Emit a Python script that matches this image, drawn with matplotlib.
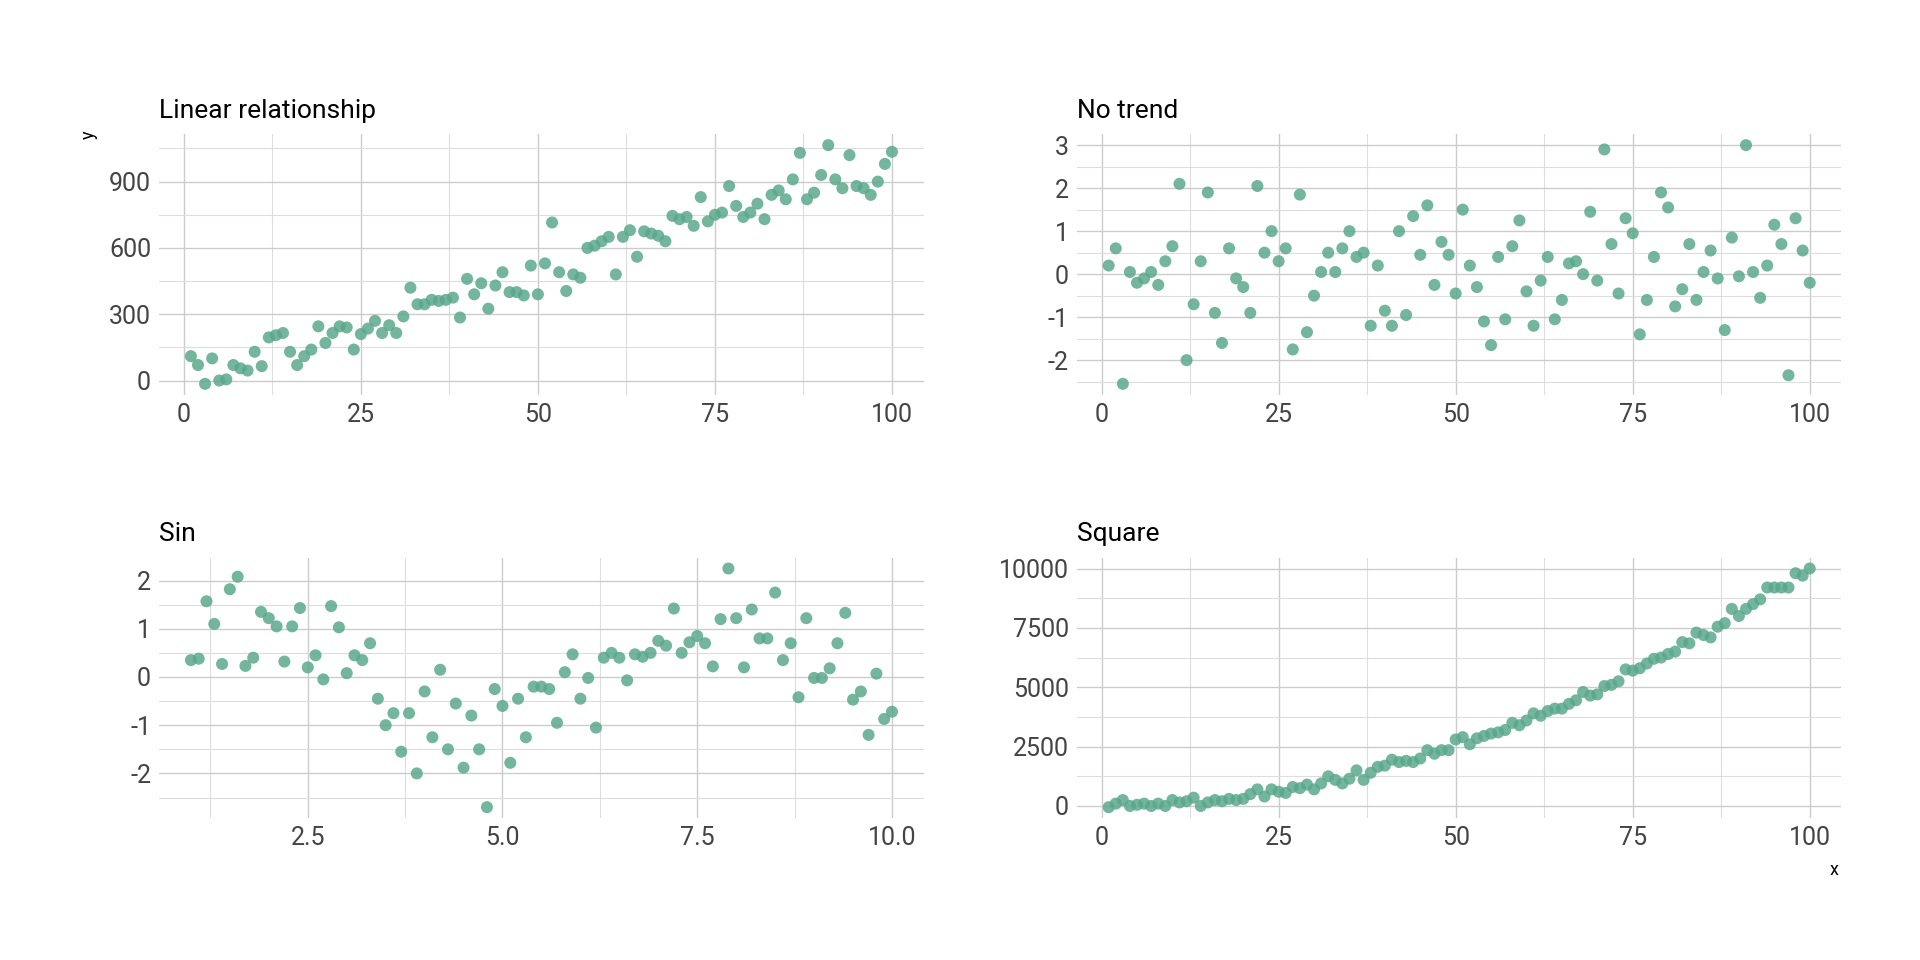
import matplotlib
matplotlib.use("Agg")
import matplotlib.pyplot as plt
from matplotlib.ticker import MultipleLocator, FormatStrFormatter

plt.rcParams['font.family'] = ['Liberation Sans Narrow', 'Roboto', 'DejaVu Sans']
plt.rcParams['axes.unicode_minus'] = False

x100 = list(range(1, 101))
lin_y = [110, 70, -15, 100, 0, 5, 70, 55, 45, 130, 65, 195, 205, 215, 130, 70, 110, 140, 245, 170,
         215, 245, 240, 140, 210, 235, 270, 215, 250, 215, 290, 420, 345, 345, 365, 360, 365, 375, 285, 460,
         390, 440, 325, 430, 490, 400, 400, 385, 520, 390, 530, 715, 490, 405, 480, 465, 600, 610, 630, 650,
         480, 650, 680, 560, 675, 665, 655, 630, 745, 730, 740, 700, 830, 720, 750, 760, 880, 790, 740, 760,
         800, 730, 840, 860, 820, 910, 1030, 820, 850, 930, 1065, 910, 870, 1020, 880, 870, 840, 900, 980, 1035]
notrend_y = [0.2, 0.6, -2.55, 0.05, -0.2, -0.1, 0.05, -0.25, 0.3, 0.65, 2.1, -2.0, -0.7, 0.3, 1.9, -0.9, -1.6, 0.6, -0.1, -0.3,
             -0.9, 2.05, 0.5, 1.0, 0.3, 0.6, -1.75, 1.85, -1.35, -0.5, 0.05, 0.5, 0.05, 0.6, 1.0, 0.4, 0.5, -1.2, 0.2, -0.85,
             -1.2, 1.0, -0.95, 1.35, 0.45, 1.6, -0.25, 0.75, 0.45, -0.45, 1.5, 0.2, -0.3, -1.1, -1.65, 0.4, -1.05, 0.65, 1.25, -0.4,
             -1.2, -0.15, 0.4, -1.05, -0.6, 0.25, 0.3, 0.0, 1.45, -0.15, 2.9, 0.7, -0.45, 1.3, 0.95, -1.4, -0.6, 0.4, 1.9, 1.55,
             -0.75, -0.35, 0.7, -0.6, 0.05, 0.55, -0.1, -1.3, 0.85, -0.05, 3.0, 0.05, -0.55, 0.2, 1.15, 0.7, -2.35, 1.3, 0.55, -0.2]
sin_x = [round(1 + 0.1 * i, 1) for i in range(91)]
sin_y = [0.35, 0.38, 1.57, 1.1, 0.27, 1.82, 2.08, 0.23, 0.4, 1.35, 1.22, 1.05, 0.32, 1.05, 1.43, 0.2, 0.45, -0.05, 1.47, 1.03,
         0.08, 0.45, 0.35, 0.7, -0.45, -1.0, -0.75, -1.55, -0.75, -2.0, -0.3, -1.25, 0.15, -1.5, -0.55, -1.88, -0.8, -1.5, -2.7, -0.25,
         -0.6, -1.78, -0.45, -1.25, -0.2, -0.2, -0.25, -0.95, 0.1, 0.47, -0.45, -0.02, -1.05, 0.4, 0.5, 0.4, -0.07, 0.47, 0.42, 0.5,
         0.75, 0.65, 1.42, 0.5, 0.72, 0.85, 0.7, 0.22, 1.2, 2.25, 1.22, 0.2, 1.4, 0.8, 0.8, 1.75, 0.35, 0.7, -0.42, 1.22,
         -0.02, -0.02, 0.18, 0.7, 1.33, -0.47, -0.3, -1.2, 0.07, -0.87, -0.72]
sq_y = [-50, 100, 250, 0, 50, 100, 0, 100, 0, 250, 150, 200, 350, 0, 150, 250, 200, 300, 250, 300,
        500, 700, 400, 700, 600, 550, 800, 750, 900, 700, 950, 1250, 1100, 950, 1150, 1500, 1100, 1400, 1650, 1700,
        1950, 1850, 1900, 1850, 2000, 2350, 2200, 2350, 2350, 2800, 2900, 2600, 2850, 2950, 3050, 3100, 3200, 3500, 3400, 3600,
        3900, 3800, 4000, 4100, 4100, 4300, 4450, 4800, 4650, 4700, 5050, 5100, 5250, 5750, 5700, 5800, 6000, 6200, 6250, 6400,
        6500, 6900, 6850, 7300, 7200, 7100, 7550, 7700, 8300, 8000, 8300, 8500, 8700, 9200, 9200, 9200, 9200, 9800, 9700, 10000]

panels = [
    ("Linear relationship", x100, lin_y, 25, 12.5, 300, 150),
    ("No trend", x100, notrend_y, 25, 12.5, 1, 0.5),
    ("Sin", sin_x, sin_y, 2.5, 1.25, 1, 0.5),
    ("Square", x100, sq_y, 25, 12.5, 2500, 1250),
]
boxes = [(0.083, 0.589), (0.561, 0.589), (0.083, 0.148), (0.561, 0.148)]
W, H = 0.398, 0.271

fig = plt.figure(figsize=(19.2, 9.6), dpi=100)
for (title, xs, ys, xmaj, xmin, ymaj, ymin), (l, b) in zip(panels, boxes):
    ax = fig.add_axes([l, b, W, H])
    ax.scatter(xs, ys, s=75, color="#5aa88c", alpha=0.85, edgecolors="none", zorder=3)
    ax.xaxis.set_major_locator(MultipleLocator(xmaj))
    ax.xaxis.set_minor_locator(MultipleLocator(xmin))
    ax.yaxis.set_major_locator(MultipleLocator(ymaj))
    ax.yaxis.set_minor_locator(MultipleLocator(ymin))
    ax.grid(which="major", color="#cccccc", lw=1.0)
    ax.grid(which="minor", color="#dddddd", lw=0.8)
    for s in ax.spines.values():
        s.set_visible(False)
    ax.tick_params(which="both", length=0, labelsize=18, colors="#444444", pad=6)
    ax.set_title(title, loc="left", fontsize=19, pad=12)
    ax.margins(x=0.045, y=0.045)
    if title == "Sin":
        ax.xaxis.set_major_formatter(FormatStrFormatter("%.1f"))

fig.text(0.046, 0.86, "y", rotation=90, fontsize=13, ha="center", va="center")
fig.text(0.955, 0.094, "x", fontsize=13, ha="center", va="center")
fig.savefig("out.png", dpi=100, facecolor="white")
